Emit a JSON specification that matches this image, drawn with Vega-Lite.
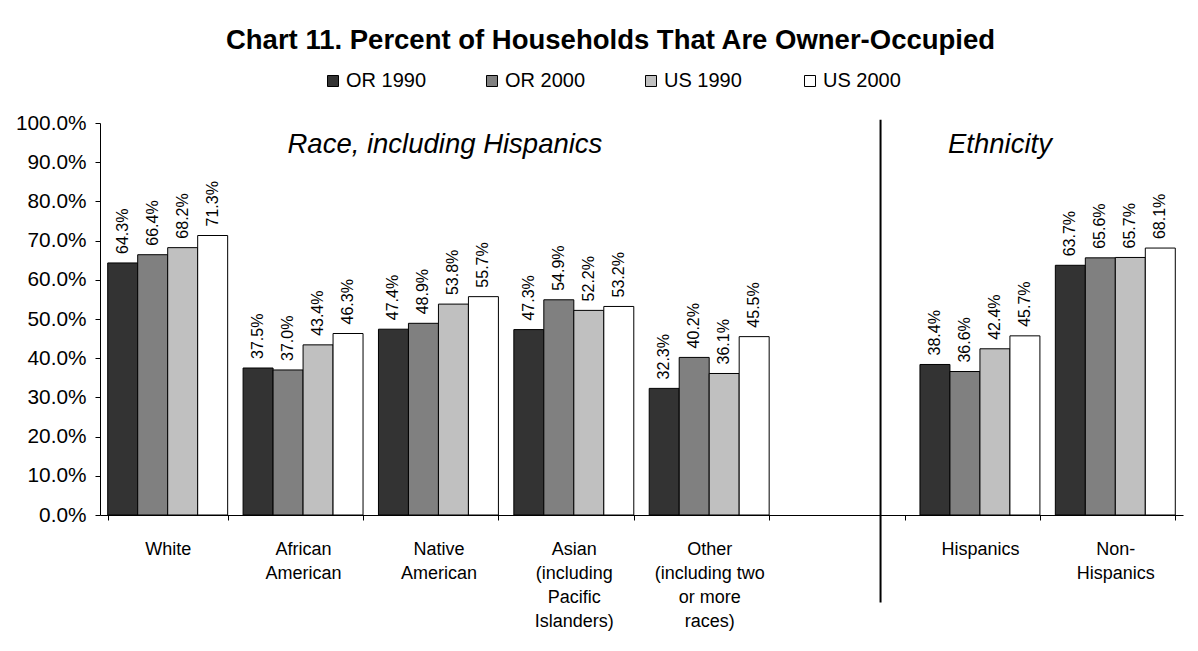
{
  "$schema": "https://vega.github.io/schema/vega-lite/v6.json",
  "width": 1083,
  "height": 392,
  "autosize": {"type": "none"},
  "padding": {"left": 100, "top": 123, "right": 15, "bottom": 136},
  "background": "white",
  "title": {
    "text": "Chart 11. Percent of Households That Are Owner-Occupied",
    "font": "Arial",
    "fontSize": 27.5,
    "fontWeight": "bold",
    "color": "black",
    "anchor": "middle",
    "dx": -31,
    "offset": 17
  },
  "config": {
    "view": {"stroke": null},
    "font": "Arial",
    "axisY": {"labelOverlap": false, "grid": false, "tickSize": 5, "tickColor": "black", "domainColor": "black", "labelFontSize": 20.8, "labelFont": "Arial", "labelColor": "black", "labelPadding": 9, "title": null},
    "axisX": {"tickBand": "extent", "tickSize": 5, "tickColor": "black", "domainColor": "black", "labelAngle": 0, "labelFontSize": 18, "labelFont": "Arial", "labelColor": "black", "labelPadding": 20, "labelLineHeight": 24, "labelBaseline": "top", "labelOverlap": false, "title": null}
  },
  "datasets": {
    "owner": [
      {"group": "White", "series": "OR 1990", "value": 0.643},
      {"group": "White", "series": "OR 2000", "value": 0.664},
      {"group": "White", "series": "US 1990", "value": 0.682},
      {"group": "White", "series": "US 2000", "value": 0.713},
      {"group": "African\nAmerican", "series": "OR 1990", "value": 0.375},
      {"group": "African\nAmerican", "series": "OR 2000", "value": 0.370},
      {"group": "African\nAmerican", "series": "US 1990", "value": 0.434},
      {"group": "African\nAmerican", "series": "US 2000", "value": 0.463},
      {"group": "Native\nAmerican", "series": "OR 1990", "value": 0.474},
      {"group": "Native\nAmerican", "series": "OR 2000", "value": 0.489},
      {"group": "Native\nAmerican", "series": "US 1990", "value": 0.538},
      {"group": "Native\nAmerican", "series": "US 2000", "value": 0.557},
      {"group": "Asian\n(including\nPacific\nIslanders)", "series": "OR 1990", "value": 0.473},
      {"group": "Asian\n(including\nPacific\nIslanders)", "series": "OR 2000", "value": 0.549},
      {"group": "Asian\n(including\nPacific\nIslanders)", "series": "US 1990", "value": 0.522},
      {"group": "Asian\n(including\nPacific\nIslanders)", "series": "US 2000", "value": 0.532},
      {"group": "Other\n(including two\nor more\nraces)", "series": "OR 1990", "value": 0.323},
      {"group": "Other\n(including two\nor more\nraces)", "series": "OR 2000", "value": 0.402},
      {"group": "Other\n(including two\nor more\nraces)", "series": "US 1990", "value": 0.361},
      {"group": "Other\n(including two\nor more\nraces)", "series": "US 2000", "value": 0.455},
      {"group": "Hispanics", "series": "OR 1990", "value": 0.384},
      {"group": "Hispanics", "series": "OR 2000", "value": 0.366},
      {"group": "Hispanics", "series": "US 1990", "value": 0.424},
      {"group": "Hispanics", "series": "US 2000", "value": 0.457},
      {"group": "Non-\nHispanics", "series": "OR 1990", "value": 0.637},
      {"group": "Non-\nHispanics", "series": "OR 2000", "value": 0.656},
      {"group": "Non-\nHispanics", "series": "US 1990", "value": 0.657},
      {"group": "Non-\nHispanics", "series": "US 2000", "value": 0.681}
    ]
  },
  "layer": [
    {
      "data": {"name": "owner"},
      "mark": {"type": "bar", "stroke": "black", "strokeWidth": 1},
      "encoding": {
        "x": {
          "field": "group",
          "type": "nominal",
          "sort": null,
          "title": null,
          "scale": {
            "domain": ["White", "African\nAmerican", "Native\nAmerican", "Asian\n(including\nPacific\nIslanders)", "Other\n(including two\nor more\nraces)", " ", "Hispanics", "Non-\nHispanics"],
            "paddingInner": 0.114,
            "paddingOuter": 0.057
          },
          "axis": {"labelExpr": "datum.value == null ? '' : split(datum.value, '\\n')"}
        },
        "xOffset": {
          "field": "series",
          "type": "nominal",
          "scale": {"domain": ["OR 1990", "OR 2000", "US 1990", "US 2000"], "paddingInner": 0, "paddingOuter": 0}
        },
        "y": {
          "field": "value",
          "type": "quantitative",
          "title": null,
          "scale": {"domain": [0, 1], "nice": false},
          "axis": {"values": [0, 0.1, 0.2, 0.3, 0.4, 0.5, 0.6, 0.7, 0.8, 0.9, 1], "format": ".1%"}
        },
        "color": {
          "field": "series",
          "type": "nominal",
          "scale": {"domain": ["OR 1990", "OR 2000", "US 1990", "US 2000"], "range": ["#333333", "#808080", "#c0c0c0", "#ffffff"]},
          "legend": {
            "orient": "none",
            "legendX": 223,
            "legendY": -52,
            "direction": "horizontal",
            "columns": 4,
            "gridAlign": "all",
            "columnPadding": 55,
            "title": null,
            "symbolType": "square",
            "symbolSize": 121,
            "symbolStrokeColor": "black",
            "symbolStrokeWidth": 1,
            "symbolOffset": 0,
            "labelFontSize": 20,
            "labelFont": "Arial",
            "labelColor": "black",
            "labelOffset": 3,
            "padding": 0
          }
        }
      }
    },
    {
      "data": {"name": "owner"},
      "mark": {"type": "text", "angle": 270, "align": "left", "baseline": "middle", "dx": 9, "fontSize": 16, "font": "Arial", "color": "black"},
      "encoding": {
        "x": {"field": "group", "type": "nominal", "sort": null, "title": null, "axis": {"labelExpr": "datum.value == null ? '' : split(datum.value, '\\n')"}},
        "xOffset": {"field": "series", "type": "nominal"},
        "y": {"field": "value", "type": "quantitative", "title": null, "axis": {"values": [0, 0.1, 0.2, 0.3, 0.4, 0.5, 0.6, 0.7, 0.8, 0.9, 1], "format": ".1%"}},
        "text": {"field": "value", "format": ".1%"}
      }
    },
    {
      "data": {"values": [{"divider": "Race | Ethnicity"}]},
      "mark": {"type": "rule", "color": "black", "strokeWidth": 2},
      "encoding": {
        "x": {"datum": " ", "type": "nominal", "bandPosition": 0.8, "title": null, "axis": {"labelExpr": "datum.value == null ? '' : split(datum.value, '\\n')"}},
        "y": {"datum": 1.008, "type": "quantitative", "title": null, "axis": {"values": [0, 0.1, 0.2, 0.3, 0.4, 0.5, 0.6, 0.7, 0.8, 0.9, 1], "format": ".1%"}},
        "y2": {"datum": -0.223}
      }
    },
    {
      "data": {"values": [{"note": "Race, including Hispanics"}]},
      "mark": {"type": "text", "fontSize": 27.5, "fontStyle": "italic", "font": "Arial", "color": "black", "align": "center", "baseline": "middle"},
      "encoding": {
        "x": {"datum": "Native\nAmerican", "type": "nominal", "bandPosition": 0.554, "title": null, "axis": {"labelExpr": "datum.value == null ? '' : split(datum.value, '\\n')"}},
        "y": {"datum": 0.944, "type": "quantitative", "title": null, "axis": {"values": [0, 0.1, 0.2, 0.3, 0.4, 0.5, 0.6, 0.7, 0.8, 0.9, 1], "format": ".1%"}},
        "text": {"field": "note"}
      }
    },
    {
      "data": {"values": [{"note": "Ethnicity"}]},
      "mark": {"type": "text", "fontSize": 27.5, "fontStyle": "italic", "font": "Arial", "color": "black", "align": "center", "baseline": "middle"},
      "encoding": {
        "x": {"datum": "Hispanics", "type": "nominal", "bandPosition": 0.667, "title": null, "axis": {"labelExpr": "datum.value == null ? '' : split(datum.value, '\\n')"}},
        "y": {"datum": 0.944, "type": "quantitative", "title": null, "axis": {"values": [0, 0.1, 0.2, 0.3, 0.4, 0.5, 0.6, 0.7, 0.8, 0.9, 1], "format": ".1%"}},
        "text": {"field": "note"}
      }
    }
  ]
}
